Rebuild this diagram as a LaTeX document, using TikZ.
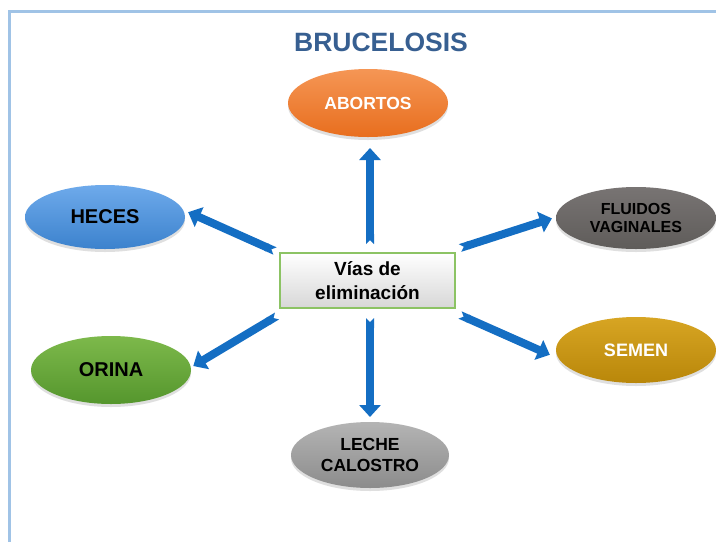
\documentclass[tikz,border=0pt]{standalone}
\usepackage{fontspec}
\setmainfont{Liberation Sans}
\usetikzlibrary{shapes.geometric,arrows.meta,shadows}
\definecolor{arrowblue}{RGB}{20,110,195}
\definecolor{titleblue}{RGB}{55,95,145}
\definecolor{framebl}{RGB}{160,195,230}
\tikzset{
  oval/.style={ellipse, minimum width=160pt, minimum height=66pt, inner sep=0pt,
    align=center, font=\bfseries, drop shadow={opacity=0.25, shadow xshift=0pt, shadow yshift=-3pt}},
  conn/.style={arrowblue, line width=8pt,
    {Triangle Cap[reversed, length=4pt]}-{Triangle[width=21pt,length=12pt]}, shorten >=-2pt}
}
\begin{document}
\begin{tikzpicture}[x=1pt,y=-1pt]
\useasboundingbox (0,0) rectangle (716,542);
\fill[white] (0,0) rectangle (716,542);
\draw[framebl, line width=3pt] (9,542) -- (9,11) -- (716,11);
\node[font=\bfseries\fontsize{26.5}{30}\selectfont, text=titleblue] (title) at (381,42) {BRUCELOSIS};
\node[oval, top color={rgb,255:red,245;green,150;blue,85}, bottom color={rgb,255:red,232;green,110;blue,30}, text=white, font=\bfseries\fontsize{17.5}{20}\selectfont, minimum height=68pt] (abortos) at (368,103) {ABORTOS};
\node[oval, top color={rgb,255:red,110;green,170;blue,235}, bottom color={rgb,255:red,60;green,130;blue,205}, font=\bfseries\fontsize{20}{23}\selectfont, minimum height=64pt] (heces) at (105,217) {HECES};
\node[oval, top color={rgb,255:red,120;green,116;blue,115}, bottom color={rgb,255:red,95;green,92;blue,90}, font=\bfseries\fontsize{16}{18}\selectfont, minimum height=62pt] (fluidos) at (636,218) {FLUIDOS\\VAGINALES};
\node[oval, top color={rgb,255:red,125;green,185;blue,75}, bottom color={rgb,255:red,85;green,150;blue,45}, font=\bfseries\fontsize{20}{23}\selectfont, minimum height=68pt] (orina) at (111,370) {ORINA};
\node[oval, top color={rgb,255:red,215;green,165;blue,35}, bottom color={rgb,255:red,185;green,135;blue,10}, text=white, font=\bfseries\fontsize{18}{21}\selectfont] (semen) at (636,350) {SEMEN};
\node[oval, top color={rgb,255:red,180;green,180;blue,180}, bottom color={rgb,255:red,140;green,140;blue,140}, font=\bfseries\fontsize{17.5}{21}\selectfont, minimum width=158pt] (leche) at (370,455) {LECHE\\CALOSTRO};
\node[draw={rgb,255:red,140;green,195;blue,100}, line width=1.2pt, top color=white, bottom color={rgb,255:red,215;green,215;blue,215}, minimum width=175pt, minimum height=55pt, align=center, font=\bfseries\fontsize{19}{24}\selectfont] (center) at (367.5,280.5) {Vías de\\eliminación};
\coordinate (tU) at (370,244); \coordinate (hU) at (370,150);
\coordinate (tD) at (370,318); \coordinate (hD) at (370,415);
\coordinate (tLU) at (275,251); \coordinate (hLU) at (190,213);
\coordinate (tRU) at (460,248); \coordinate (hRU) at (550,219);
\coordinate (tLD) at (277,316); \coordinate (hLD) at (195,365);
\coordinate (tRD) at (460,315); \coordinate (hRD) at (548,354);
\draw[conn] (tU) -- (hU);
\draw[conn] (tD) -- (hD);
\draw[conn] (tLU) -- (hLU);
\draw[conn] (tRU) -- (hRU);
\draw[conn] (tLD) -- (hLD);
\draw[conn] (tRD) -- (hRD);
\end{tikzpicture}
\end{document}
